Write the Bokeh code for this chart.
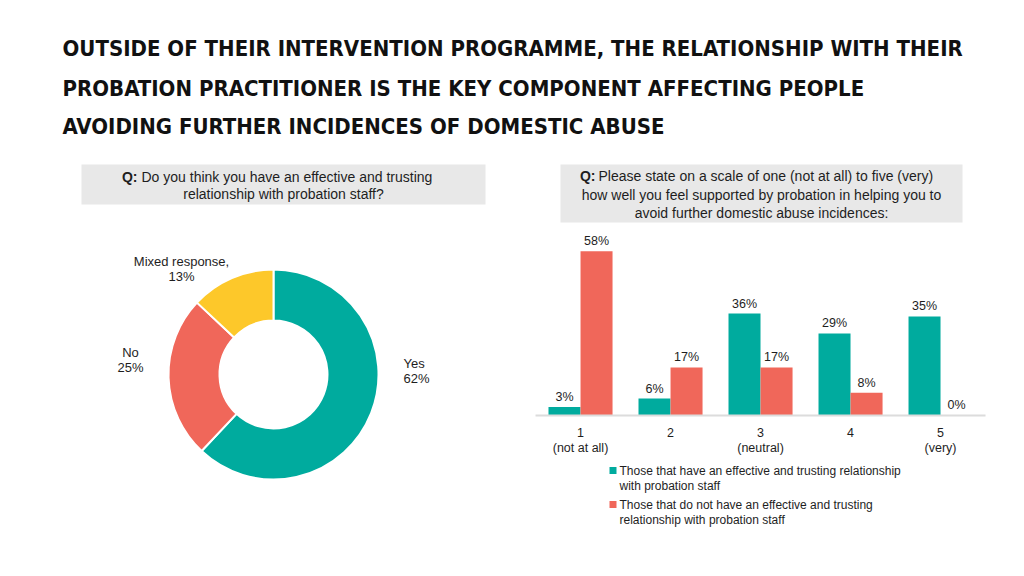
import math
from bokeh.plotting import figure
from bokeh.layouts import column, row
from bokeh.models import Range1d
from bokeh.core.properties import value
from bokeh.embed import file_html
from bokeh.resources import INLINE

# ---------------- data ----------------
title_lines = [
    "OUTSIDE OF THEIR INTERVENTION PROGRAMME, THE RELATIONSHIP WITH THEIR",
    "PROBATION PRACTITIONER IS THE KEY COMPONENT AFFECTING PEOPLE",
    "AVOIDING FURTHER INCIDENCES OF DOMESTIC ABUSE",
]
q1_lines = ["Do you think you have an effective and trusting",
            "relationship with probation staff?"]
q2_lines = ["Please state on a scale of one (not at all) to five (very)",
            "how well you feel supported by probation in helping you to",
            "avoid further domestic abuse incidences:"]

pie_categories = ["Yes", "No", "Mixed response"]
pie_values = [62, 25, 13]
pie_name_text = ["Yes", "No", "Mixed response,"]

scale_cats = ["1", "2", "3", "4", "5"]
scale_sub = ["(not at all)", "", "(neutral)", "", "(very)"]
have_vals = [3, 6, 36, 29, 35]
havenot_vals = [58, 17, 17, 8, 0]
series_names = [
    ["Those that have an effective and trusting relationship", "with probation staff"],
    ["Those that do not have an effective and trusting", "relationship with probation staff"],
]

# ---------------- style ----------------
TEAL = "#00ab9e"
RED = "#f0675a"
YELLOW = "#fdc82a"
BOXGRAY = "#e8e8e8"
TXT = "#1e1e1e"
BODY = value("Liberation Sans")
pie_colors = [TEAL, RED, YELLOW]


def blank(w, h, xr, yr):
    p = figure(width=w, height=h, x_range=xr, y_range=yr, output_backend="svg",
               toolbar_location=None, x_axis_location=None, y_axis_location=None,
               min_border=0)
    p.outline_line_color = None
    p.background_fill_color = "white"
    p.border_fill_color = "white"
    for g in p.center[:]:
        p.center.remove(g)
    return p


# ---------------- title ----------------
top = blank(1008, 140, Range1d(0, 1008), Range1d(436, 576))
top.text(x=[62] * 3, y=[528, 488, 450], text=title_lines,
         text_font=value("DejaVu Sans Condensed"), text_font_style="bold",
         text_font_size="22px", text_color="#111111", text_baseline="alphabetic")

# ---------------- donut ----------------
left = blank(500, 420, Range1d(0, 500), Range1d(16, 436))
left.quad(left=81, right=485, top=412, bottom=372, fill_color=BOXGRAY, line_color=None)
left.text(x=[137], y=[400], text=["Q:"], text_font=BODY, text_font_style="bold",
          text_font_size="14px", text_color=TXT, text_align="right", text_baseline="middle")
left.text(x=[141], y=[400], text=[q1_lines[0]], text_font=BODY,
          text_font_size="14px", text_color=TXT, text_align="left", text_baseline="middle")
left.text(x=[283], y=[383], text=[q1_lines[1]], text_font=BODY,
          text_font_size="14px", text_color=TXT, text_align="center", text_baseline="middle")

total = sum(pie_values)
starts, ends, acc = [], [], 0
for v in pie_values:
    starts.append(math.pi / 2 - 2 * math.pi * acc / total)
    acc += v
    ends.append(math.pi / 2 - 2 * math.pi * acc / total)
left.annular_wedge(x=273, y=202, inner_radius=54, outer_radius=105,
                   start_angle=starts, end_angle=ends, direction="clock",
                   fill_color=pie_colors, line_color="white", line_width=2)

lab_x = [403, 130, 181]
lab_y = [213, 224, 315]
lab_align = ["left", "center", "center"]
for i in range(len(pie_values)):
    left.text(x=[lab_x[i]], y=[lab_y[i]], text=[pie_name_text[i]], text_font=BODY,
              text_font_size="13px", text_color=TXT, text_align=lab_align[i],
              text_baseline="middle")
    left.text(x=[lab_x[i]], y=[lab_y[i] - 15], text=[f"{pie_values[i]}%"], text_font=BODY,
              text_font_size="13px", text_color=TXT, text_align=lab_align[i],
              text_baseline="middle")

# ---------------- bars ----------------
right = blank(508, 420, Range1d(0.111, 5.755), Range1d(-51.24, 97.17))
right.extra_x_ranges = {"px": Range1d(500, 1008)}
right.extra_y_ranges = {"py": Range1d(16, 436)}

right.quad(left=560, right=962, top=412, bottom=354, fill_color=BOXGRAY, line_color=None,
           x_range_name="px", y_range_name="py")
right.text(x=[595], y=[401], text=["Q:"], text_font=BODY, text_font_style="bold",
           text_font_size="14px", text_color=TXT, text_align="right", text_baseline="middle",
           x_range_name="px", y_range_name="py")
right.text(x=[598], y=[401], text=[q2_lines[0]], text_font=BODY,
           text_font_size="14px", text_color=TXT, text_align="left", text_baseline="middle",
           x_range_name="px", y_range_name="py")
right.text(x=[761, 761], y=[382, 364], text=q2_lines[1:], text_font=BODY,
           text_font_size="14px", text_color=TXT, text_align="center", text_baseline="middle",
           x_range_name="px", y_range_name="py")

xs = list(range(1, len(scale_cats) + 1))
off = 0.178
bw = 0.3556
x_have = [x - off for x in xs]
x_not = [x + off for x in xs]
right.vbar(x=x_have, top=have_vals, bottom=0, width=bw, fill_color=TEAL, line_color=None)
right.vbar(x=x_not, top=havenot_vals, bottom=0, width=bw, fill_color=RED, line_color=None)
right.segment(x0=[0.5], y0=[0], x1=[len(xs) + 0.5], y1=[0], line_color="#dcdcdc", line_width=2)

right.text(x=x_have, y=have_vals, text=[f"{v}%" for v in have_vals], text_font=BODY,
           text_font_size="12.5px", text_color=TXT, text_align="center",
           text_baseline="alphabetic", y_offset=-10)
right.text(x=x_not, y=havenot_vals, text=[f"{v}%" for v in havenot_vals], text_font=BODY,
           text_font_size="12.5px", text_color=TXT, text_align="center",
           text_baseline="alphabetic", y_offset=-10)

right.text(x=xs, y=[144] * len(xs), text=scale_cats, text_font=BODY,
           text_font_size="12.5px", text_color=TXT, text_align="center",
           text_baseline="middle", y_range_name="py")
right.text(x=xs, y=[129] * len(xs), text=scale_sub, text_font=BODY,
           text_font_size="12.5px", text_color=TXT, text_align="center",
           text_baseline="middle", y_range_name="py")

# legend
leg_y = [106, 72]
for i, col in enumerate([TEAL, RED]):
    right.scatter(x=[612.5], y=[leg_y[i]], marker="square", size=7, fill_color=col,
                  line_color=None, x_range_name="px", y_range_name="py")
    right.text(x=[619, 619], y=[leg_y[i], leg_y[i] - 15], text=series_names[i],
               text_font=BODY, text_font_size="12px", text_color=TXT,
               text_align="left", text_baseline="middle",
               x_range_name="px", y_range_name="py")

layout = column(top, row(left, right, spacing=0), spacing=0)
open("out.html", "w").write(file_html(layout, INLINE))
